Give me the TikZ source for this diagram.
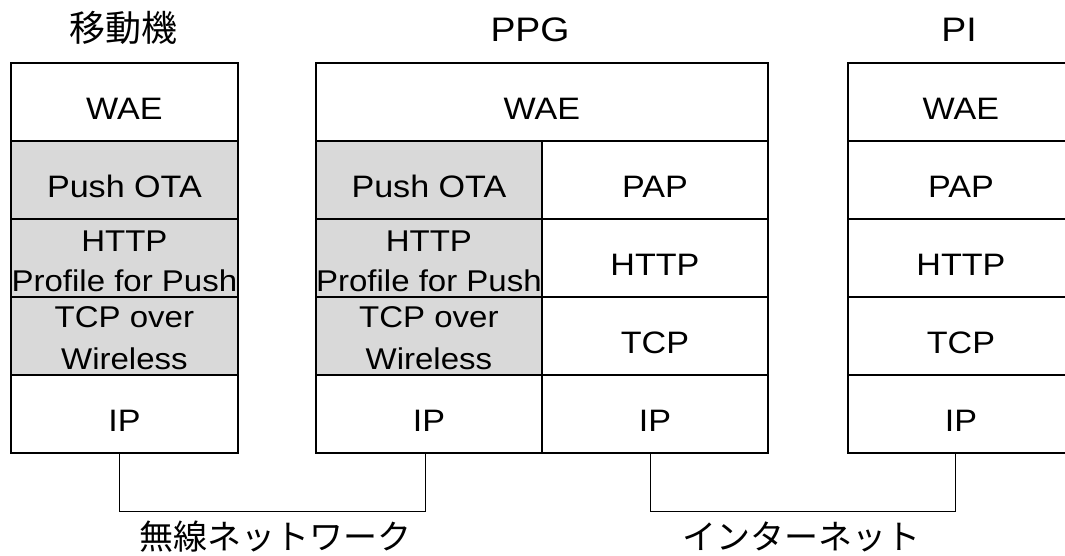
\documentclass[tikz,border=0pt]{standalone}
\usepackage{fontspec}
\setmainfont[FakeStretch=1.1]{Liberation Sans}
\newfontfamily\jpfont{Noto Sans CJK JP}
\newcommand\stacked[3]{\makebox[0pt]{\begin{tabular}[b]{@{}c@{}}#1\\[#3]#2\end{tabular}}}
\begin{document}
\begin{tikzpicture}[x=1pt,y=-1pt,
  layer/.style={draw=black, line width=1.8pt, fill=white, inner sep=0pt,
    minimum height=78pt, anchor=north west,
    text height=36pt, text depth=0pt,
    font=\fontsize{31}{36}\selectfont},
  twoline/.style={layer, text height=68pt, font=\fontsize{30}{36}\selectfont},
  shaded/.style={fill=black!15},
  heading/.style={anchor=base, font=\fontsize{34}{40}\selectfont},
  jpheading/.style={anchor=base, font=\jpfont\fontsize{36}{40}\selectfont},
  netlabel/.style={font=\jpfont\fontsize{34}{38}\selectfont},
  link/.style={draw=black, line width=1.1pt}]
\useasboundingbox (0,0) rectangle (1065,556);
\clip (0,0) rectangle (1065,556);

% column titles
\node[jpheading] (t-mob) at (123.5,42) {移動機};
\node[heading] (t-ppg) at (530,42) {PPG};
\node[heading] (t-pi) at (959,42) {PI};

% mobile terminal stack
\node[layer, minimum width=227pt] (m-wae) at (10,62) {WAE};
\node[layer, shaded, minimum width=227pt] (m-ota) at (10,140) {Push OTA};
\node[twoline, shaded, minimum width=227pt] (m-http) at (10,218)
  {\stacked{HTTP}{Profile for Push}{4pt}};
\node[twoline, shaded, minimum width=227pt] (m-tcp) at (10,296)
  {\stacked{TCP over}{Wireless}{6pt}};
\node[layer, minimum width=227pt] (m-ip) at (10,374) {IP};

% push proxy gateway stack
\node[layer, minimum width=452pt] (p-wae) at (315,62) {WAE};
\node[layer, shaded, minimum width=226pt] (p-ota) at (315,140) {Push OTA};
\node[twoline, shaded, minimum width=226pt] (p-hpush) at (315,218)
  {\stacked{HTTP}{Profile for Push}{4pt}};
\node[twoline, shaded, minimum width=226pt] (p-tcpw) at (315,296)
  {\stacked{TCP over}{Wireless}{6pt}};
\node[layer, minimum width=226pt] (p-ip1) at (315,374) {IP};
\node[layer, minimum width=226pt] (p-pap) at (541,140) {PAP};
\node[layer, minimum width=226pt] (p-http) at (541,218) {HTTP};
\node[layer, minimum width=226pt] (p-tcp) at (541,296) {TCP};
\node[layer, minimum width=226pt] (p-ip2) at (541,374) {IP};

% push initiator stack
\node[layer, minimum width=226pt] (i-wae) at (847,62) {WAE};
\node[layer, minimum width=226pt] (i-pap) at (847,140) {PAP};
\node[layer, minimum width=226pt] (i-http) at (847,218) {HTTP};
\node[layer, minimum width=226pt] (i-tcp) at (847,296) {TCP};
\node[layer, minimum width=226pt] (i-ip) at (847,374) {IP};

% network links between the IP layers
\draw[link] ([xshift=-4.5pt]m-ip.south) -- ++(0,58) coordinate (w-bend)
  -| ([xshift=-3pt]p-ip1.south);
\draw[link] ([xshift=-4pt]p-ip2.south) -- ++(0,58) coordinate (n-bend)
  -| ([xshift=-5pt]i-ip.south);

\node[netlabel] (l-wireless) at (275,537) {無線ネットワーク};
\node[netlabel] (l-internet) at (801,537) {インターネット};
\end{tikzpicture}
\end{document}
